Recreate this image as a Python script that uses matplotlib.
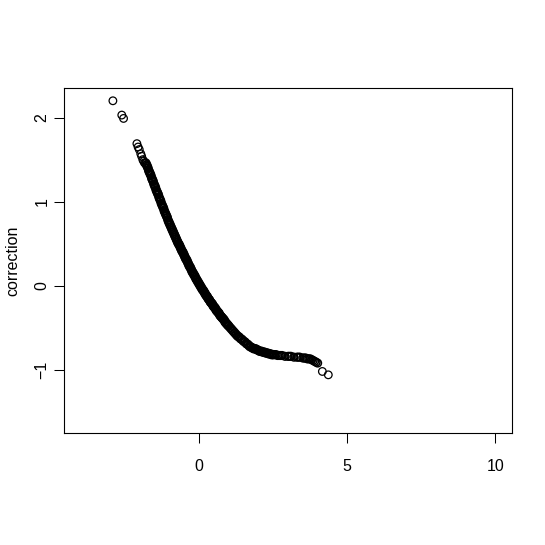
import matplotlib
matplotlib.use("Agg")
import matplotlib.pyplot as plt

plt.rcParams['font.family'] = ['Liberation Sans', 'DejaVu Sans']

# sparse points at the upper-left tail
tail_x = [-2.91, -2.61, -2.55, -2.10, -2.06, -2.02, -1.97, -1.94, -1.90, -1.87, -1.84]
tail_y = [2.20, 2.03, 1.99, 1.69, 1.65, 1.62, 1.57, 1.54, 1.50, 1.48, 1.46]

# dense part of the curve
curve_x = [-1.800, -1.775, -1.750, -1.725, -1.700, -1.675, -1.650, -1.625, -1.600, -1.575,
           -1.550, -1.525, -1.500, -1.475, -1.450, -1.425, -1.400, -1.375, -1.350, -1.325,
           -1.300, -1.275, -1.250, -1.225, -1.200, -1.175, -1.150, -1.125, -1.100, -1.075,
           -1.050, -1.025, -1.000, -0.975, -0.950, -0.925, -0.900, -0.875, -0.850, -0.825,
           -0.800, -0.775, -0.750, -0.725, -0.700, -0.675, -0.650, -0.625, -0.600, -0.575,
           -0.550, -0.525, -0.500, -0.475, -0.450, -0.425, -0.400, -0.375, -0.350, -0.325,
           -0.300, -0.275, -0.250, -0.225, -0.200, -0.175, -0.150, -0.125, -0.100, -0.075,
           -0.050, -0.025, 0.000, 0.025, 0.050, 0.075, 0.100, 0.125, 0.150, 0.175,
           0.200, 0.225, 0.250, 0.275, 0.300, 0.325, 0.350, 0.375, 0.400, 0.425,
           0.450, 0.475, 0.500, 0.525, 0.550, 0.575, 0.600, 0.625, 0.650, 0.675,
           0.700, 0.725, 0.750, 0.775, 0.800, 0.825, 0.850, 0.875, 0.900, 0.925,
           0.950, 0.975, 1.000, 1.050, 1.100, 1.150, 1.200, 1.250, 1.300, 1.350,
           1.400, 1.450, 1.500, 1.550, 1.600, 1.650, 1.700, 1.750, 1.800, 1.850,
           1.900, 1.950, 2.000, 2.050, 2.100, 2.150, 2.200, 2.250, 2.300, 2.350,
           2.400, 2.450, 2.500]
curve_y = [1.46, 1.44, 1.42, 1.40, 1.37, 1.35, 1.33, 1.31, 1.28, 1.26,
           1.24, 1.21, 1.19, 1.17, 1.14, 1.12, 1.10, 1.08, 1.05, 1.03,
           1.01, 0.98, 0.96, 0.94, 0.92, 0.89, 0.87, 0.85, 0.83, 0.81,
           0.78, 0.76, 0.74, 0.72, 0.70, 0.68, 0.66, 0.64, 0.62, 0.60,
           0.58, 0.56, 0.54, 0.52, 0.50, 0.49, 0.47, 0.45, 0.43, 0.41,
           0.40, 0.38, 0.36, 0.34, 0.32, 0.31, 0.29, 0.27, 0.25, 0.23,
           0.22, 0.20, 0.18, 0.16, 0.15, 0.13, 0.12, 0.10, 0.08, 0.07,
           0.05, 0.04, 0.02, 0.01, -0.01, -0.02, -0.04, -0.05, -0.06, -0.08,
           -0.09, -0.11, -0.12, -0.13, -0.15, -0.16, -0.17, -0.19, -0.20, -0.21,
           -0.22, -0.24, -0.25, -0.26, -0.27, -0.29, -0.30, -0.31, -0.32, -0.33,
           -0.35, -0.36, -0.37, -0.38, -0.39, -0.40, -0.41, -0.43, -0.44, -0.45,
           -0.46, -0.47, -0.48, -0.50, -0.52, -0.54, -0.56, -0.58, -0.60, -0.61,
           -0.63, -0.64, -0.66, -0.67, -0.69, -0.70, -0.72, -0.73, -0.74, -0.75,
           -0.75, -0.76, -0.77, -0.78, -0.78, -0.79, -0.79, -0.80, -0.80, -0.81,
           -0.81, -0.82, -0.82]

# flat stretch, less dense (single rings still visible)
flat_x = [2.55, 2.60, 2.65, 2.70, 2.75, 2.80, 2.90, 3.00, 3.05, 3.10, 3.20, 3.30,
          3.35, 3.40, 3.50, 3.55, 3.60, 3.65, 3.70, 3.75, 3.80, 3.85, 3.90, 3.95, 4.00]
flat_y = [-0.82, -0.82, -0.83, -0.83, -0.83, -0.83, -0.84, -0.84, -0.84, -0.84, -0.85, -0.85,
          -0.85, -0.85, -0.86, -0.86, -0.86, -0.87, -0.87, -0.87, -0.88, -0.89, -0.90, -0.91, -0.92]

# sparse points at the lower-right end
end_x = [4.16, 4.36]
end_y = [-1.02, -1.06]

x_ticks = [0, 5, 10]
y_ticks = [-1, 0, 1, 2]

fig = plt.figure(figsize=(5.45, 5.45), dpi=100)
ax = fig.add_axes([64 / 545, 1 - 433 / 545, 448 / 545, 345 / 545])

ring = dict(s=30, facecolors='none', edgecolors='black')
ax.scatter(tail_x, tail_y, linewidths=0.9, **ring)
# the band is solid black in the original (thousands of overlapping rings)
ax.scatter(curve_x, curve_y, linewidths=1.35, **ring)
ax.scatter(flat_x, flat_y, linewidths=1.1, **ring)
ax.scatter(end_x, end_y, linewidths=0.9, **ring)

ax.set_xlim(-4.56, 10.56)
ax.set_ylim(-1.752, 2.352)
ax.set_xticks(x_ticks)
ax.set_yticks(y_ticks)
ax.set_xticklabels([str(t) for t in x_ticks])
ax.set_yticklabels(['\u22121', '0', '1', '2'], rotation=90, va='center')
ax.tick_params(axis='both', direction='out', length=7, width=0.75, labelsize=11.5)
ax.tick_params(axis='x', pad=12)
ax.tick_params(axis='y', pad=3.5)
for s in ax.spines.values():
    s.set_linewidth(0.8)

ax.set_ylabel('correction', fontsize=11.5, va='center')
ax.yaxis.set_label_coords(-0.114, 0.5)

fig.savefig('out.png', dpi=100)
